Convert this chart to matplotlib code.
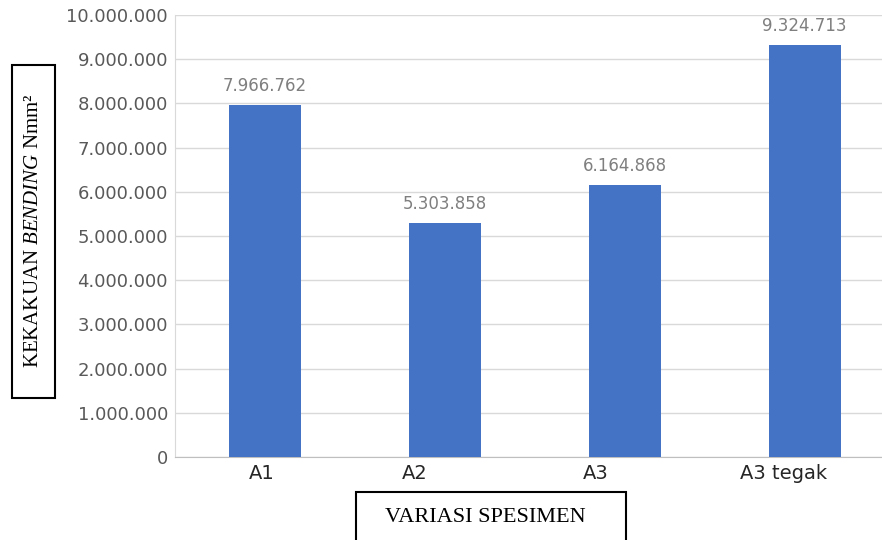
import matplotlib
matplotlib.use("Agg")
import matplotlib.pyplot as plt
from matplotlib.patches import Rectangle
from matplotlib.ticker import FuncFormatter
from matplotlib.transforms import ScaledTranslation

kategori = ["A1", "A2", "A3", "A3 tegak"]
nilai = [7966762, 5303858, 6164868, 9324713]
yticks = [0, 1000000, 2000000, 3000000, 4000000, 5000000,
          6000000, 7000000, 8000000, 9000000, 10000000]

plt.rcParams["mathtext.fontset"] = "custom"
plt.rcParams["mathtext.rm"] = "Liberation Serif"
plt.rcParams["mathtext.it"] = "Liberation Serif:italic"


def titik(v):
    # format angka dengan pemisah ribuan titik
    return f"{int(round(v)):,}".replace(",", ".")


fig = plt.figure(figsize=(8.82, 5.4), dpi=100)
ax = fig.add_axes([175 / 882, 1 - 457 / 540, 1 - 175 / 882, (457 - 15) / 540])

x = range(len(kategori))
bars = ax.bar(x, nilai, width=0.4, color="#4472C4", zorder=3)

for b, v in zip(bars, nilai):
    ax.annotate(titik(v), (b.get_x() + b.get_width() / 2, v),
                xytext=(0, 7), textcoords="offset points",
                ha="center", va="bottom", fontsize=12, color="#7f7f7f")

ax.set_ylim(0, 10000000)
ax.set_xlim(-0.5, 3.43)
ax.set_yticks(yticks)
ax.yaxis.set_major_formatter(FuncFormatter(lambda v, p: titik(v)))
ax.set_xticks(list(x))
ax.set_xticklabels(kategori)
ax.tick_params(axis="y", length=0, pad=5, labelsize=13, labelcolor="#595959")
ax.tick_params(axis="x", length=0, pad=5, labelsize=14, labelcolor="#262626")
ax.grid(axis="y", color="#d9d9d9", linewidth=1, zorder=0)

# label kategori di gambar asli agak bergeser ke kiri
geser = [-3.5, -30.5, -29, -21.5]
for lbl, dx in zip(ax.get_xticklabels(), geser):
    lbl.set_transform(lbl.get_transform() + ScaledTranslation(dx / 100, 0, fig.dpi_scale_trans))

for s in ["top", "right"]:
    ax.spines[s].set_visible(False)
ax.spines["left"].set_color("#d9d9d9")
ax.spines["bottom"].set_color("#bfbfbf")

# kotak label sumbu y
fig.patches.append(Rectangle((12 / 882, 1 - 398 / 540), 43 / 882, 333 / 540,
                             transform=fig.transFigure, fill=False,
                             edgecolor="black", linewidth=1.5))
fig.text(34 / 882, 1 - 231 / 540, r"KEKAKUAN $\mathit{BENDING}$ Nmm²",
         rotation=90, ha="center", va="center", fontsize=15,
         family="Liberation Serif", color="black")

# kotak label sumbu x
fig.patches.append(Rectangle((356 / 882, -0.05), 270 / 882, 0.05 + 48 / 540,
                             transform=fig.transFigure, fill=False,
                             edgecolor="black", linewidth=1.5))
fig.text(485 / 882, 1 - 517 / 540, "VARIASI SPESIMEN", ha="center",
         va="center", fontsize=16, family="Liberation Serif", color="black")

fig.savefig("out.png", dpi=100)
